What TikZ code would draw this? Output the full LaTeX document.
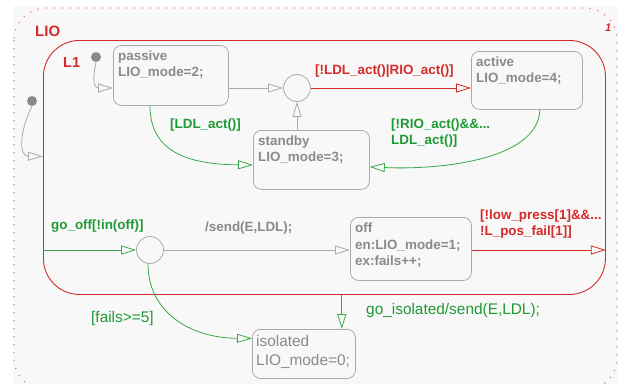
\documentclass[tikz,border=0pt]{standalone}
\usepackage{fontspec}
\setmainfont{Liberation Sans}
\usepackage{xcolor}
\usepackage{tikz}
\usetikzlibrary{arrows.meta}

\definecolor{chartbg}{HTML}{F8F8F8}
\definecolor{boxgray}{HTML}{ABABAB}
\definecolor{txtgray}{HTML}{8A8A8A}
\definecolor{chartred}{HTML}{D42A2A}
\definecolor{dotred}{HTML}{E58070}
\definecolor{chartgreen}{HTML}{1F9A34}
\definecolor{linegreen}{HTML}{3AA84A}

\begin{document}
\begin{tikzpicture}[x=1pt, y=-1pt,
  state/.style={draw=boxgray, line width=0.8pt, rounded corners=8pt, anchor=north west, inner sep=0pt},
  stext/.style={anchor=north west, align=left, inner sep=0pt, text=txtgray, font=\fontsize{13.4}{16}\selectfont\bfseries},
  junc/.style={circle, draw=boxgray, line width=0.8pt, minimum size=27pt, inner sep=0pt},
  dflt/.style={circle, fill=txtgray, minimum size=10pt, inner sep=0pt},
  tr/.style={line width=0.8pt, -{Triangle[open, length=15pt, width=9pt]}},
  lbl/.style={anchor=west, align=left, inner sep=0pt, font=\fontsize{13.4}{16}\selectfont\bfseries}]
\useasboundingbox (0,0) rectangle (618,384);
\clip (0,0) rectangle (618,384);
\fill[chartbg] (13,6) rectangle (618,384);
\draw[dotred, line width=1.2pt, dash pattern=on 1.2pt off 6.8pt, rounded corners=32pt] (14,8) rectangle (617,390);

% superstate
\node[draw=chartred, line width=0.9pt, rounded corners=36pt, minimum width=562pt, minimum height=254pt, anchor=north west, inner sep=0pt] (L1) at (43,40) {};
\node[lbl, text=chartred, font=\fontsize{15}{18}\selectfont\bfseries] (lio) at (35,31.5) {LIO};
\node[lbl, text=chartred, font=\fontsize{11}{13}\selectfont\bfseries\itshape] (num) at (605,27.5) {1};
\node[lbl, text=chartred, font=\fontsize{14.5}{17}\selectfont\bfseries] (l1t) at (63,62.5) {L1};

% states
\node[state, minimum width=115pt, minimum height=60pt] (passive) at (113,45) {};
\node[stext] (passivet) at ([xshift=5pt, yshift=-6pt]passive.north west) {passive\\LIO\_mode=2;};
\node[state, minimum width=111pt, minimum height=58pt] (active) at (471,51) {};
\node[stext] (activet) at ([xshift=5pt, yshift=-6pt]active.north west) {active\\LIO\_mode=4;};
\node[state, minimum width=116pt, minimum height=59pt] (standby) at (253,130) {};
\node[stext] (standbyt) at ([xshift=5pt, yshift=-6pt]standby.north west) {standby\\LIO\_mode=3;};
\node[state, minimum width=121pt, minimum height=63pt] (off) at (350,217) {};
\node[stext, font=\fontsize{13.4}{16.5}\selectfont\bfseries] (offt) at ([xshift=5pt, yshift=-6pt]off.north west) {off\\en:LIO\_mode=1;\\ex:fails++;};
\node[state, minimum width=103pt, minimum height=49pt] (isolated) at (252,329) {};
\node[stext, font=\fontsize{15.4}{19}\selectfont] (isolatedt) at ([xshift=4pt, yshift=-6pt]isolated.north west) {isolated\\LIO\_mode=0;};

% junctions and defaults
\node[junc] (j1) at (297,88) {};
\node[junc] (j2) at (150,250) {};
\node[dflt] (init1) at (96,57) {};
\node[dflt] (init0) at (32,101) {};

% transitions
\draw[tr, boxgray] (init1.south) .. controls (92,80) and (94,88) .. (passive.west |- j1);
\draw[tr, boxgray] (init0.south) .. controls (20,130) and (18,156) .. ([yshift=11pt]L1.west);
\draw[tr, boxgray] (passive.east |- j1) -- (j1.west);
\draw[tr, chartred] (j1.east) -- (active.west |- j1);
\draw[tr, boxgray] (standby.north -| j1) -- (j1.south);
\draw[tr, linegreen] (passive.south -| j2) .. controls (150,150) and (185,164.5) .. ([yshift=-5pt]standby.west);
\draw[tr, linegreen] ([xshift=13pt]active.south) .. controls (538,160) and (440,170) .. ([yshift=-7pt]standby.east);
\draw[tr, linegreen] (L1.west |- j2) -- (j2.west);
\draw[tr, boxgray] (j2.east) -- (off.west |- j2);
\draw[tr, chartred] (off.east |- j2) -- (L1.east |- j2);
\draw[tr, linegreen] (L1.south -| isolated.north east) ++(-14,0) -- ([xshift=-14pt]isolated.north east);
\draw[tr, linegreen] ([xshift=-2pt]j2.south) .. controls (148,312) and (190,338) .. ([yshift=15.5pt]isolated.west);

% labels
\node[lbl, text=chartgreen] (g1) at (170,125) {[LDL\_act()]};
\node[lbl, text=chartred] (r1) at (315,71) {[!LDL\_act()|RIO\_act()]};
\node[lbl, text=chartgreen] (g2) at (391,133) {[!RIO\_act()\&\&...\\LDL\_act()]};
\node[lbl, text=chartgreen] (g3) at (51,226) {go\_off[!in(off)]};
\node[lbl, text=txtgray] (a1) at (205,228) {/send(E,LDL);};
\node[lbl, text=chartred] (r2) at (480,224) {[!low\_press[1]\&\&...\\!L\_pos\_fail[1]]};
\node[lbl, text=chartgreen, font=\fontsize{15.4}{18}\selectfont] (g4) at (366,311) {go\_isolated/send(E,LDL);};
\node[lbl, text=chartgreen, font=\fontsize{15.4}{18}\selectfont] (g5) at (91,319) {[fails>=5]};
\end{tikzpicture}
\end{document}
